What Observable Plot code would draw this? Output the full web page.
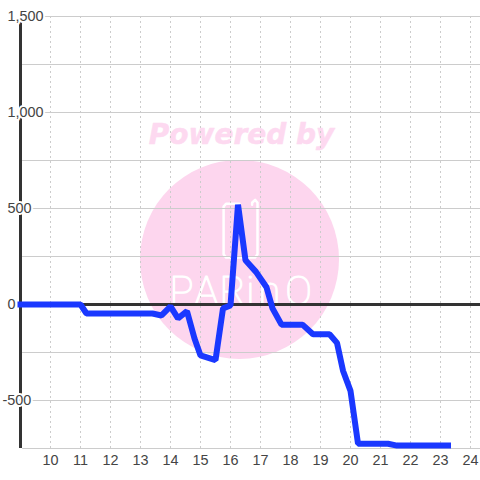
<!DOCTYPE html>
<html><head><meta charset="utf-8">
<style>html,body{margin:0;padding:0;background:#fff}svg{display:block}</style>
<script src="https://cdn.jsdelivr.net/npm/d3@7"></script>
<script src="https://cdn.jsdelivr.net/npm/@observablehq/plot@0.6"></script>
</head><body><div id="chart"></div>
<script>
const xTicks = [10,11,12,13,14,15,16,17,18,19,20,21,22,23,24];
const yGrid = [1500,1250,1000,750,500,250,0,-250,-500,-750];
const yLabelValues = [1500,1000,500,0];
const yLabelTexts = ["1,500","1,000","500","0"];
const lineX = [9,11,11.2,13.4,13.7,14,14.25,14.55,14.8,15,15.5,15.75,16,16.25,16.5,16.85,17.2,17.4,17.7,18.4,18.75,19.3,19.55,19.75,20,20.25,21.25,21.55,23.25];
const lineY = [0,0,-47,-47,-57,-10,-72,-35,-177,-265,-290,-20,-5,520,230,170,90,-20,-105,-105,-155,-155,-200,-345,-450,-725,-725,-735,-735];
const points = lineX.map((x,i)=>({x,y:lineY[i]}));
const logoX = [16.3,15.85,15.77,15.77,15.85,16.82,16.9,16.9,16.82,16.72,16.72];
const logoY = [525,525,510,262,245,245,262,530,545,530,520];
const wordLetters = ["P","A","R","i","n","O"];
const wordX = [14.37,15.2,16.07,16.66,17.3,18.27];

const font = "'Liberation Sans', Arial, sans-serif";
const plot = Plot.plot({
  width:480, height:480,
  marginLeft:20, marginRight:0, marginTop:16, marginBottom:32,
  style:{background:"#fff", fontFamily:font},
  x:{domain:[9,9+460/30], axis:null},
  y:{domain:[-750,1500], axis:null},
  marks:[
    Plot.dot([{x:16.3,y:235}],{x:"x",y:"y",r:99.5,fill:"#fdd6ee",stroke:null}),
    Plot.line(logoX.map((x,i)=>({x,y:logoY[i]})),{x:"x",y:"y",stroke:"#fff",strokeWidth:2.5,curve:"linear"}),
    Plot.text(wordLetters,{x:(d,i)=>wordX[i],y:()=>-5,text:d=>d,lineAnchor:"bottom",fill:"#fff",stroke:"#fff",strokeWidth:1.2,fontSize:40,fontWeight:100,fontFamily:"Roboto, sans-serif"}),
    Plot.text(["Powered by"],{x:()=>16.37,y:()=>885,text:d=>d,fill:"#fdd9f0",stroke:"#fdd9f0",strokeWidth:0.5,fontSize:28,fontWeight:"bold",fontStyle:"italic",fontFamily:"'DejaVu Sans', sans-serif"}),
    Plot.ruleY(yGrid,{x1:9.07,x2:9+460/30,stroke:"#ccc",strokeWidth:1}),
    Plot.ruleX(xTicks,{y1:-750,y2:1500,stroke:"#ccc",strokeWidth:1,strokeDasharray:"2,3"}),
    Plot.ruleX([9],{y1:-750,y2:1500,stroke:"#333",strokeWidth:3}),
    Plot.ruleY([0],{stroke:"#333",strokeWidth:3}),
    Plot.text(yLabelTexts,{x:()=>9,y:(d,i)=>yLabelValues[i],text:d=>d,textAnchor:"start",dx:-13,fill:"#444",stroke:"#fff",strokeWidth:4,fontSize:14.4}),
    Plot.text(["-500"],{x:()=>9,y:()=>-500,text:d=>d,textAnchor:"start",dx:-18,fill:"#444",stroke:"#fff",strokeWidth:4,fontSize:14.4}),
    Plot.text(xTicks,{x:d=>d,y:()=>-750,text:d=>String(d),dy:12,lineAnchor:"middle",fill:"#444",fontSize:14.4}),
    Plot.line(points,{x:"x",y:"y",stroke:"#1a38ff",strokeWidth:6,strokeLinecap:"square",strokeLinejoin:"miter",curve:"linear"})
  ]
});
document.getElementById("chart").appendChild(plot);
</script></body></html>
